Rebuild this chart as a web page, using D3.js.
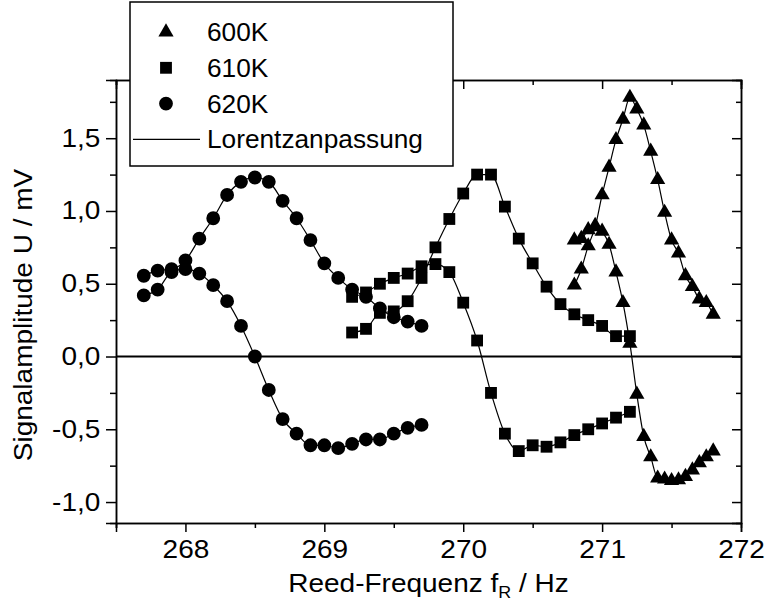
<!DOCTYPE html>
<html>
<head>
<meta charset="utf-8">
<script src="https://cdn.jsdelivr.net/npm/d3@7"></script>
<style>
  body { margin: 0; background: #fff; }
  svg { font-family: "Liberation Sans", Arial, sans-serif; }
</style>
</head>
<body>
<svg id="chart"></svg>
<script>
const width = 768;
const height = 602;

// 620K (circles)
const freq620 = [267.7, 267.8, 267.9, 268.0, 268.1, 268.2, 268.3, 268.4, 268.5, 268.6, 268.7,
                 268.8, 268.9, 269.0, 269.1, 269.2, 269.3, 269.4, 269.5, 269.6, 269.7];
const amp620 = [0.555, 0.59, 0.60, 0.66, 0.81, 0.95, 1.11, 1.20, 1.23, 1.20, 1.07,
                0.95, 0.80, 0.64, 0.54, 0.46, 0.41, 0.33, 0.27, 0.24, 0.21];
const disp620 = [0.42, 0.46, 0.58, 0.60, 0.57, 0.49, 0.38, 0.21, 0.0, -0.23, -0.43,
                 -0.53, -0.61, -0.61, -0.63, -0.60, -0.57, -0.57, -0.53, -0.49, -0.47];

// 610K (squares)
const freq610 = [269.2, 269.3, 269.4, 269.5, 269.6, 269.7, 269.8, 269.9, 270.0, 270.1, 270.2,
                 270.3, 270.4, 270.5, 270.6, 270.7, 270.8, 270.9, 271.0, 271.1, 271.2];
const amp610 = [0.165, 0.19, 0.30, 0.31, 0.38, 0.54, 0.75, 0.945, 1.12, 1.25, 1.25,
                1.03, 0.81, 0.64, 0.48, 0.36, 0.29, 0.25, 0.21, 0.14, 0.14];
const disp610 = [0.41, 0.44, 0.50, 0.54, 0.57, 0.62, 0.635, 0.58, 0.37, 0.11, -0.25,
                 -0.53, -0.65, -0.61, -0.62, -0.59, -0.54, -0.50, -0.46, -0.42, -0.38];

// 600K (triangles)
const freq600 = [270.8, 270.85, 270.9, 270.95, 271.0, 271.05, 271.1, 271.15, 271.2, 271.25, 271.3,
                 271.35, 271.4, 271.45, 271.5, 271.55, 271.6, 271.65, 271.7, 271.75, 271.8];
const amp600 = [0.49, 0.60, 0.76, 0.89, 1.11, 1.30, 1.49, 1.63, 1.78, 1.70, 1.59,
                1.41, 1.215, 0.99, 0.80, 0.71, 0.555, 0.48, 0.395, 0.37, 0.29];
const disp600 = [0.80, 0.81, 0.87, 0.90, 0.86, 0.77, 0.58, 0.37, 0.09, -0.26, -0.55,
                 -0.69, -0.836, -0.843, -0.853, -0.848, -0.825, -0.78, -0.73, -0.69, -0.65];

const xMajor = [268, 269, 270, 271, 272];
const xMinor = [267.5, 268.5, 269.5, 270.5, 271.5];
const yMajor = [-1.0, -0.5, 0.0, 0.5, 1.0, 1.5];
const yMinor = [-0.75, -0.25, 0.25, 0.75, 1.25, 1.75];

const legendLabels = ['600K', '610K', '620K', 'Lorentzanpassung'];

const margin = {top: 80, right: 27, bottom: 79, left: 116};
const plotW = width - margin.left - margin.right;
const plotH = height - margin.top - margin.bottom;
const stretch = 'scale(1.12,1)'; // the original lettering is a bit wider than Arial

const svg = d3.select('#chart')
    .attr('width', width)
    .attr('height', height);

const x = d3.scaleLinear().domain([267.5, 272]).range([0, plotW]);
const y = d3.scaleLinear().domain([-1.144, 1.9]).range([plotH, 0]);

const g = svg.append('g').attr('transform', `translate(${margin.left},${margin.top})`);

const fmt = v => d3.format('.1f')(v).replace('.', ',').replace('\u2212', '-');

// axes (outside ticks on bottom/left, inside on top/right)
const axBottom = g.append('g').attr('transform', `translate(0,${plotH})`);
axBottom.call(d3.axisBottom(x).tickValues(xMajor).tickSize(9).tickPadding(8).tickFormat(d3.format('d')));
axBottom.append('g').call(d3.axisBottom(x).tickValues(xMinor).tickSize(5).tickFormat(''));

const axLeft = g.append('g');
axLeft.call(d3.axisLeft(y).tickValues(yMajor).tickSize(10).tickPadding(4).tickFormat(fmt));
axLeft.append('g').call(d3.axisLeft(y).tickValues(yMinor).tickSize(6).tickFormat(''));

const axTop = g.append('g');
axTop.call(d3.axisTop(x).tickValues(xMajor).tickSize(-9).tickFormat(''));
axTop.append('g').call(d3.axisTop(x).tickValues(xMinor).tickSize(-5).tickFormat(''));

const axRight = g.append('g').attr('transform', `translate(${plotW},0)`);
axRight.call(d3.axisRight(y).tickValues(yMajor).tickSize(-9).tickFormat(''));
axRight.append('g').call(d3.axisRight(y).tickValues(yMinor).tickSize(-5).tickFormat(''));

g.selectAll('.domain').attr('stroke', '#000').attr('stroke-width', 1.5);
g.selectAll('.tick line').attr('stroke', '#000').attr('stroke-width', 1.5);
g.selectAll('.tick text')
    .attr('fill', '#000')
    .attr('transform', stretch)
    .style('font-size', '25px');

// zero line
g.append('line')
    .attr('x1', 0).attr('x2', plotW)
    .attr('y1', y(0)).attr('y2', y(0))
    .attr('stroke', '#000').attr('stroke-width', 2);

const series = [
  {freq: freq600, vals: [amp600, disp600], sym: d3.symbolTriangle, size: 100},
  {freq: freq610, vals: [amp610, disp610], sym: d3.symbolSquare, size: 140},
  {freq: freq620, vals: [amp620, disp620], sym: d3.symbolCircle, size: 150}
];

const line = d3.line()
    .x(d => x(d[0]))
    .y(d => y(d[1]))
    .curve(d3.curveMonotoneX);

series.forEach(s => {
  s.vals.forEach(v => {
    const pts = s.freq.map((f, i) => [f, v[i]]);
    g.append('path')
        .datum(pts)
        .attr('d', line)
        .attr('fill', 'none')
        .attr('stroke', '#000')
        .attr('stroke-width', 1.2);
  });
});

series.forEach(s => {
  s.vals.forEach(v => {
    const pts = s.freq.map((f, i) => [f, v[i]]);
    g.selectAll(null)
        .data(pts)
        .enter().append('path')
        .attr('transform', d => `translate(${x(d[0])},${y(d[1])})`)
        .attr('d', d3.symbol().type(s.sym).size(s.size))
        .attr('fill', '#000');
  });
});

// legend
const legend = svg.append('g').attr('transform', 'translate(130,2)');
legend.append('rect')
    .attr('width', 323).attr('height', 164)
    .attr('fill', '#fff').attr('stroke', '#000').attr('stroke-width', 1.5);

const legendSyms = [d3.symbolTriangle, d3.symbolSquare, d3.symbolCircle];
const legendSizes = [100, 140, 150];
legendLabels.forEach((lab, i) => {
  const cy = 30 + i * 35.8;
  if (i < 3) {
    legend.append('path')
        .attr('transform', `translate(36,${cy})`)
        .attr('d', d3.symbol().type(legendSyms[i]).size(legendSizes[i]))
        .attr('fill', '#000');
  } else {
    legend.append('line')
        .attr('x1', 3).attr('x2', 70)
        .attr('y1', cy).attr('y2', cy)
        .attr('stroke', '#000').attr('stroke-width', 1.2);
  }
  legend.append('text')
      .attr('transform', `translate(77,${cy + 9}) scale(1.05,1)`)
      .style('font-size', '25px')
      .text(lab);
});

// axis titles
const xt = svg.append('text')
    .attr('transform', `translate(${margin.left + plotW / 2},592) ${stretch}`)
    .attr('text-anchor', 'middle')
    .style('font-size', '25px');
xt.append('tspan').text('Reed-Frequenz f');
xt.append('tspan').attr('dy', 6).style('font-size', '16px').text('R');
xt.append('tspan').attr('dy', -6).text(' / Hz');

svg.append('text')
    .attr('transform', `translate(32,315) rotate(-90) ${stretch}`)
    .attr('text-anchor', 'middle')
    .style('font-size', '25px')
    .text('Signalamplitude U / mV');
</script>
</body>
</html>
